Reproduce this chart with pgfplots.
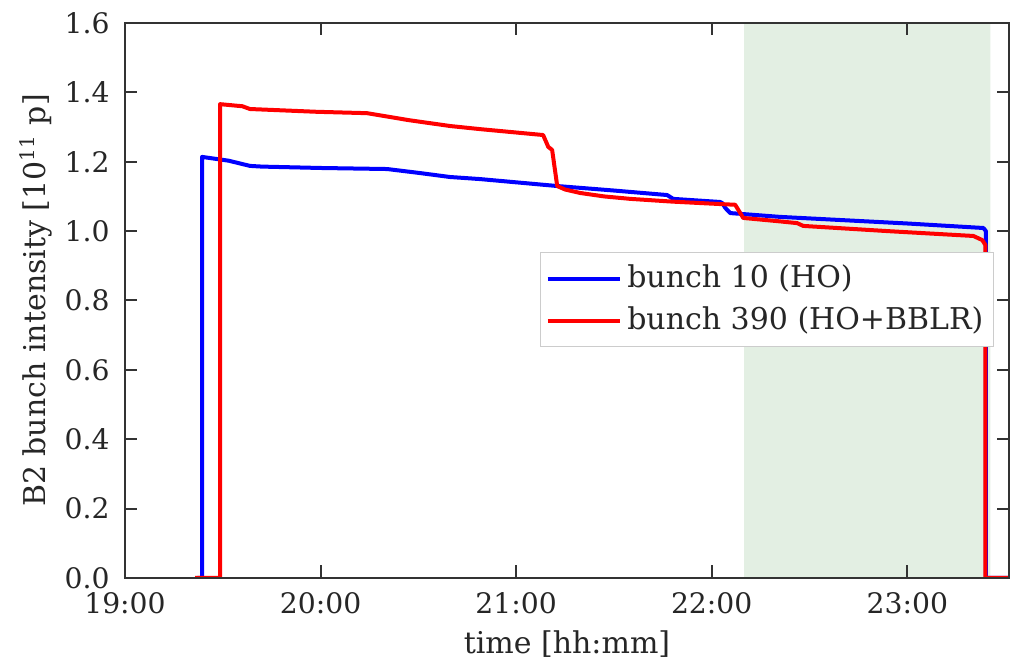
\documentclass[border=0pt]{standalone}
\usepackage{fontspec}
\setmainfont{DejaVu Serif}
\usepackage{pgfplots}
\pgfplotsset{compat=1.18}
\definecolor{txt}{HTML}{262626}
\definecolor{axc}{HTML}{333333}
\definecolor{band}{HTML}{E3EFE3}
\begin{document}
\fontsize{11pt}{13pt}\selectfont
\begin{tikzpicture}
\begin{axis}[
 scale only axis, width=353.6pt, height=222pt,
 xmin=19, xmax=23.52, ymin=0, ymax=1.6,
 xtick={19,20,21,22,23}, xticklabels={19:00,20:00,21:00,22:00,23:00},
 ytick={0,0.2,0.4,0.6,0.8,1.0,1.2,1.4,1.6},
 yticklabel style={/pgf/number format/fixed, /pgf/number format/fixed zerofill, /pgf/number format/precision=1, xshift=-2.3pt},
 xticklabel style={yshift=-2pt},
 /pgf/number format/assume math mode=true,
 tick align=inside, major tick length=5pt, tick style={axc, line width=0.8pt},
 axis line style={axc, line width=0.9pt},
 tick label style={font=\fontsize{11.3pt}{13pt}\selectfont, text=txt},
 axis on top,
 xlabel={time [hh:mm]},
 ylabel={B2 bunch intensity [10\textsuperscript{11} p]},
 label style={font=\fontsize{12pt}{14pt}\selectfont, text=txt},
 xlabel style={at={(axis description cs:0.5,0)}, anchor=center, yshift=-26.4pt},
 ylabel style={at={([xshift=-35.6pt]axis description cs:0,0.5)}, anchor=center},
 legend style={at={(rel axis cs:0.983,0.587)}, anchor=north east, draw=black!20, fill=white,
   font=\fontsize{12pt}{14pt}\selectfont, text=txt, inner xsep=2pt, inner ysep=3pt,
   row sep=2pt},
 legend cell align=left,
 legend image code/.code={\draw[#1] (0pt,0pt) -- (25pt,0pt); \path (0pt,0pt) -- (29pt,0pt);},
]
\addplot[draw=none, fill=band, forget plot] coordinates {(22.166,0) (22.166,1.6) (23.425,1.6) (23.425,0)} \closedcycle;
\addplot[blue, line width=1.6pt, line join=round] coordinates {
(19.37,0) (19.394,0) (19.394,1.214) (19.53,1.203) (19.639,1.188) (19.70,1.186) (20.0,1.182)
(20.34,1.179) (20.50,1.168) (20.662,1.156) (20.816,1.150) (21.210,1.130) (21.50,1.117)
(21.772,1.104) (21.803,1.093) (22.043,1.084) (22.054,1.081) (22.069,1.067) (22.095,1.052)
(22.350,1.041) (23.00,1.022) (23.389,1.009) (23.402,1.0) (23.402,0) (23.52,0)};
\addlegendentry{bunch 10 (HO)}
\addplot[red, line width=1.6pt, line join=round] coordinates {
(19.358,0) (19.486,0) (19.486,1.366) (19.60,1.360) (19.639,1.352) (19.98,1.344) (20.238,1.340)
(20.45,1.320) (20.662,1.303) (20.816,1.294) (21.138,1.277) (21.164,1.243) (21.184,1.234)
(21.210,1.130) (21.25,1.120) (21.327,1.110) (21.45,1.100) (21.583,1.093) (21.8,1.085)
(22.043,1.078) (22.120,1.076) (22.161,1.038) (22.350,1.028) (22.437,1.023) (22.468,1.015)
(22.9,1.000) (23.338,0.986) (23.384,0.974) (23.399,0.96) (23.399,0) (23.52,0)};
\addlegendentry{bunch 390 (HO+BBLR)}
\end{axis}
\pgfresetboundingbox
\path (current axis.south west) ++(-50pt,-33.2pt) rectangle ++(407.6pt,264.4pt);
\end{tikzpicture}
\end{document}
